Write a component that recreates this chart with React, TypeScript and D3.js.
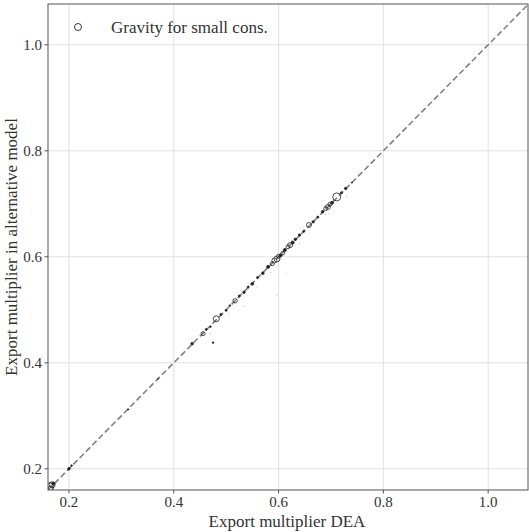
import React from "react";
import * as d3 from "d3";

const xTicks = [0.2, 0.4, 0.6, 0.8, 1.0];
const yTicks = [0.2, 0.4, 0.6, 0.8, 1.0];
const domainX: [number, number] = [0.16, 1.076];
const domainY: [number, number] = [0.16, 1.077];

// [DEA multiplier, alternative-model multiplier, marker size]
const mainPoints: [number, number, number][] = [
  [0.163, 0.166, 4], [0.168, 0.170, 3], [0.165, 0.163, 2.5], [0.170, 0.172, 1.5],
  [0.200, 0.200, 1.3], [0.205, 0.206, 0.8], [0.313, 0.312, 0.6], [0.370, 0.370, 0.5],
  [0.435, 0.436, 1.3], [0.456, 0.455, 2], [0.462, 0.463, 1], [0.470, 0.468, 0.8],
  [0.475, 0.438, 0.8], [0.481, 0.483, 3], [0.490, 0.491, 1], [0.500, 0.499, 1],
  [0.507, 0.508, 0.8], [0.517, 0.517, 2.2], [0.525, 0.526, 1], [0.534, 0.533, 1.2],
  [0.542, 0.543, 1], [0.550, 0.549, 1.3], [0.560, 0.561, 1], [0.570, 0.569, 1.3],
  [0.580, 0.581, 1.5], [0.588, 0.587, 2], [0.592, 0.593, 2.5], [0.597, 0.596, 3],
  [0.600, 0.601, 2], [0.604, 0.603, 1.5], [0.608, 0.607, 1.8], [0.612, 0.613, 1.5],
  [0.618, 0.619, 2], [0.622, 0.622, 2.5], [0.627, 0.627, 1.5], [0.632, 0.633, 1.2],
  [0.640, 0.641, 1.2], [0.648, 0.648, 1], [0.658, 0.660, 2.5], [0.666, 0.666, 1.2],
  [0.675, 0.675, 1], [0.684, 0.685, 1.3], [0.690, 0.691, 2], [0.694, 0.694, 2.5],
  [0.698, 0.699, 2], [0.702, 0.702, 1.5], [0.711, 0.713, 4], [0.720, 0.721, 1],
  [0.728, 0.729, 1.2], [0.740, 0.740, 0.6],
];

const faintPoints: [number, number][] = [
  [0.614, 0.568], [0.597, 0.528], [0.534, 0.506], [0.559, 0.543], [0.730, 0.713],
  [0.470, 0.455], [0.505, 0.492], [0.640, 0.625], [0.585, 0.570], [0.690, 0.680],
];

const W = 529, H = 532;
const left = 48, right = 528, top = 4, bottom = 490;
const font = "Liberation Serif, DejaVu Serif, Times New Roman, serif";

export default function App() {
  const x = d3.scaleLinear().domain(domainX).range([left, right]);
  const y = d3.scaleLinear().domain(domainY).range([bottom, top]);
  const lineLo = Math.max(domainX[0], domainY[0]);
  const lineHi = Math.min(domainX[1], domainY[1]);
  return (
    <div style={{ position: "absolute", left: 0, top: 0 }}>
      <svg width={W} height={H} style={{ display: "block", background: "#fff", fontFamily: font }}>
        <defs>
          <clipPath id="plot">
            <rect x={left} y={top} width={right - left} height={bottom - top} />
          </clipPath>
        </defs>
        {xTicks.map((t) => (
          <line key={"gx" + t} x1={x(t)} x2={x(t)} y1={top} y2={bottom} stroke="#e0e0e0" strokeWidth={1} />
        ))}
        {yTicks.map((t) => (
          <line key={"gy" + t} x1={left} x2={right} y1={y(t)} y2={y(t)} stroke="#e0e0e0" strokeWidth={1} />
        ))}
        <g clipPath="url(#plot)">
          <line x1={x(lineLo)} y1={y(lineLo)} x2={x(lineHi)} y2={y(lineHi)} stroke="#808080" strokeWidth={1.6} strokeDasharray="6,3" />
          {faintPoints.map((p, i) => (
            <circle key={"f" + i} cx={x(p[0])} cy={y(p[1])} r={0.6} fill="#bbb" />
          ))}
          {mainPoints.map((p, i) => (
            <circle key={"p" + i} cx={x(p[0])} cy={y(p[1])} r={p[2]} fill={p[2] < 1.6 ? "#222" : "none"} stroke="#222" strokeWidth={0.8} />
          ))}
        </g>
        <rect x={left} y={top} width={right - left} height={bottom - top} fill="none" stroke="#555" strokeWidth={1} />
        {xTicks.map((t) => (
          <g key={"tx" + t}>
            <line x1={x(t)} x2={x(t)} y1={bottom} y2={bottom + 3.5} stroke="#555" />
            <text x={x(t)} y={bottom + 17} textAnchor="middle" fontSize={15} fill="#333">
              {t.toFixed(1)}
            </text>
          </g>
        ))}
        {yTicks.map((t) => (
          <g key={"ty" + t}>
            <line x1={left - 3.5} x2={left} y1={y(t)} y2={y(t)} stroke="#555" />
            <text x={left - 6} y={y(t)} dy="0.35em" textAnchor="end" fontSize={15} fill="#333">
              {t.toFixed(1)}
            </text>
          </g>
        ))}
        <text x={287} y={527} textAnchor="middle" fontSize={17} fill="#333">
          Export multiplier DEA
        </text>
        <text transform={`translate(17,247) rotate(-90)`} textAnchor="middle" fontSize={17} fill="#333">
          Export multiplier in alternative model
        </text>
        <circle cx={78} cy={27} r={3.5} fill="none" stroke="#222" strokeWidth={0.9} />
        <text x={111} y={33} fontSize={17} fill="#333">
          Gravity for small cons.
        </text>
      </svg>
    </div>
  );
}
